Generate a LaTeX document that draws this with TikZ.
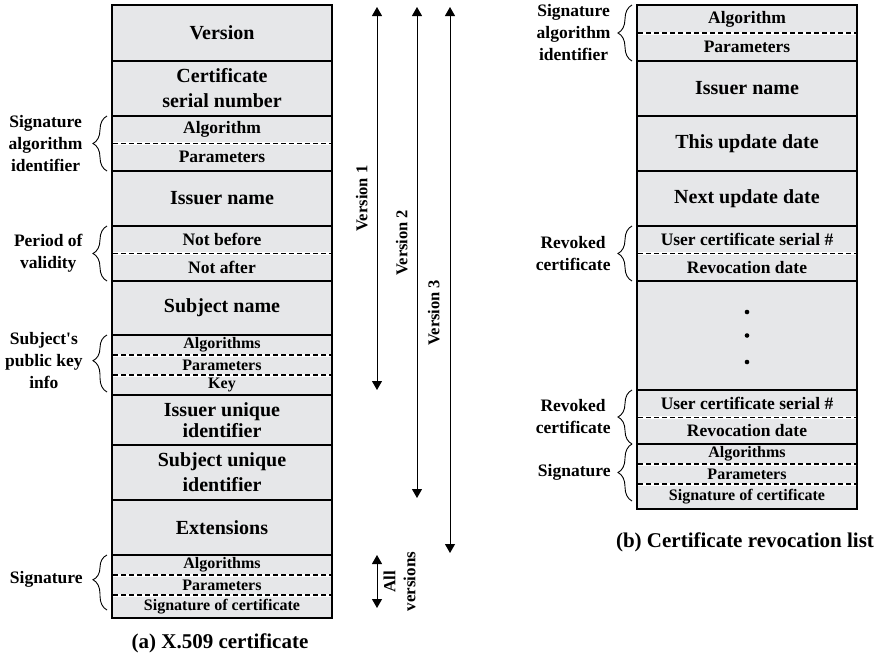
\documentclass[tikz,border=0pt]{standalone}
\usepackage{fontspec}
\setmainfont{Liberation Serif}
\usepackage{xcolor}
\definecolor{certgray}{RGB}{230,231,233}
\usetikzlibrary{arrows.meta,decorations.pathreplacing}
\newcommand{\bigtxt}{\bfseries\fontsize{20}{25}\selectfont}
\newcommand{\midtxt}{\bfseries\fontsize{17.5}{21}\selectfont}
\newcommand{\smalltxt}{\bfseries\fontsize{16}{18}\selectfont}
\newcommand{\sidetxt}{\bfseries\fontsize{17.5}{22}\selectfont}
\newcommand{\vertxt}{\bfseries\fontsize{16.5}{20}\selectfont}
\newcommand{\captxt}{\bfseries\fontsize{21}{25}\selectfont}

\begin{document}
\begin{tikzpicture}[x=1pt,y=-1pt,
  field/.style={draw,line width=1.8pt,fill=certgray,minimum width=220pt,minimum height=#1,inner sep=0pt,outer sep=0pt,align=center,font=\bigtxt},
  part/.style={field=#1,font=\midtxt},
  subpart/.style={field=#1,font=\smalltxt},
  sep/.style={draw=white,line width=3pt,shorten <=1pt,shorten >=1pt,postaction={draw=black,line width=1.1pt,dash pattern=on 5pt off 3pt}},
  brc/.style={decorate,decoration={brace,amplitude=14pt,aspect=#1},line width=0.9pt},
  brc/.default=0.5,
  side/.style={inner sep=0pt,align=center,font=\sidetxt},
  varr/.style={{Triangle[length=9pt,width=10pt]}-{Triangle[length=9pt,width=10pt]},line width=1pt}]
  \useasboundingbox (0,0) rectangle (874,656);

  % (a) X.509 certificate
  \node[field=56pt] (ver) at (222,33) {Version};
  \node[field=55pt] (csn) at (222,88.5) {Certificate\\serial number};
  \node[part=27.5pt] (salg) at (222,129.75) {Algorithm};
  \node[part=27.5pt] (spar) at (222,157.25) {Parameters};
  \node[field=55pt] (iss) at (222,198.5) {Issuer name};
  \node[part=27.5pt] (nbf) at (222,239.75) {Not before};
  \node[part=27.5pt] (naf) at (222,267.25) {Not after};
  \node[field=54pt] (sub) at (222,308) {Subject name};
  \node[subpart=20pt] (pka) at (222,345) {Algorithms};
  \node[subpart=20pt] (pkp) at (222,365) {Parameters};
  \node[subpart=20pt] (pkk) at (222,385) {Key};
  \node[field=50pt] (iui) at (222,420) {Issuer unique\\[-4pt]identifier};
  \node[field=55pt] (sui) at (222,472.5) {Subject unique\\identifier};
  \node[field=55pt] (ext) at (222,527.5) {Extensions};
  \node[subpart=20pt] (sga) at (222,565) {Algorithms};
  \node[subpart=20pt] (sgp) at (222,585) {Parameters};
  \node[subpart=23pt] (sgs) at (222,606.5) {Signature of certificate};
  \draw[sep] (salg.south west) -- (salg.south east);
  \draw[sep] (nbf.south west) -- (nbf.south east);
  \draw[sep] (pka.south west) -- (pka.south east);
  \draw[sep] (pkp.south west) -- (pkp.south east);
  \draw[sep] (sga.south west) -- (sga.south east);
  \draw[sep] (sgp.south west) -- (sgp.south east);

  \draw[brc] ([xshift=-5pt]spar.south west) -- ([xshift=-5pt]salg.north west)
    node[midway,side,left=24pt]{Signature\\algorithm\\identifier};
  \draw[brc] ([xshift=-5pt]naf.south west) -- ([xshift=-5pt]nbf.north west)
    node[midway,side,left=24pt]{Period of\\validity};
  \draw[brc=0.55] ([xshift=-5pt,yshift=3pt]pkk.south west) -- ([xshift=-5pt]pka.north west)
    node[pos=0.55,side,left=24pt]{Subject\textquotesingle s\\public key\\info};
  \draw[brc=0.55] ([xshift=-5pt,yshift=8pt]sgs.south west) -- ([xshift=-5pt]sga.north west)
    node[pos=0.55,side,left=24pt]{Signature};

  \draw[varr] ([xshift=45pt,yshift=5pt]pkk.south east) -- ([xshift=45pt,yshift=-2pt]ver.north east)
    node[pos=0.5,sloped,above=9pt,inner sep=0pt,font=\vertxt]{Version 1};
  \draw[varr] ([xshift=85pt,yshift=2pt]sui.south east) -- ([xshift=85pt,yshift=-2pt]ver.north east)
    node[pos=0.52,sloped,above=9pt,inner sep=0pt,font=\vertxt]{Version 2};
  \draw[varr] ([xshift=118pt,yshift=2pt]ext.south east) -- ([xshift=118pt,yshift=-2pt]ver.north east)
    node[pos=0.44,sloped,above=10pt,inner sep=0pt,font=\vertxt]{Version 3};
  \draw[varr] ([xshift=45pt,yshift=10pt]sgs.south east) -- ([xshift=45pt]sga.north east)
    node[midway,sloped,below=6pt,inner sep=0pt,align=center,font=\bfseries\fontsize{17}{20}\selectfont]{All\\versions};

  \node[font=\captxt] (capa) at (220,643) {(a) X.509 certificate};

  % (b) Certificate revocation list
  \node[part=28pt] (ralg) at (747,19) {Algorithm};
  \node[part=28pt] (rpar) at (747,47) {Parameters};
  \node[field=55pt] (riss) at (747,88.5) {Issuer name};
  \node[field=55pt] (rthis) at (747,143.5) {This update date};
  \node[field=55pt] (rnext) at (747,198.5) {Next update date};
  \node[part=27.5pt] (rus1) at (747,239.75) {User certificate serial \#};
  \node[part=27.5pt] (rrd1) at (747,267.25) {Revocation date};
  \node[field=109pt] (dots) at (747,335.5) {};
  \node[part=27.5pt] (rus2) at (747,403.75) {User certificate serial \#};
  \node[part=26.5pt] (rrd2) at (747,430.75) {Revocation date};
  \node[subpart=20pt] (rsa) at (747,454) {Algorithms};
  \node[subpart=20pt] (rsp) at (747,474) {Parameters};
  \node[subpart=25pt] (rss) at (747,496.5) {Signature of certificate};
  \draw[sep] (ralg.south west) -- (ralg.south east);
  \draw[sep] (rus1.south west) -- (rus1.south east);
  \draw[sep] (rus2.south west) -- (rus2.south east);
  \draw[sep] (rsa.south west) -- (rsa.south east);
  \draw[sep] (rsp.south west) -- (rsp.south east);
  \foreach \dy in {23.5,0,-26.5}
    \fill ([yshift=\dy pt]dots.center) circle (2.3);

  \draw[brc] ([xshift=-5pt]rpar.south west) -- ([xshift=-5pt]ralg.north west)
    node[midway,side,left=21pt]{Signature\\algorithm\\identifier};
  \draw[brc] ([xshift=-5pt]rrd1.south west) -- ([xshift=-5pt]rus1.north west)
    node[midway,side,left=21pt]{Revoked\\certificate};
  \draw[brc] ([xshift=-5pt]rrd2.south west) -- ([xshift=-5pt]rus2.north west)
    node[midway,side,left=21pt]{Revoked\\certificate};
  \draw[brc] ([xshift=-5pt,yshift=8pt]rss.south west) -- ([xshift=-5pt]rsa.north west)
    node[midway,side,left=21pt]{Signature};

  \node[font=\captxt] (capb) at (745,542) {(b) Certificate revocation list};
\end{tikzpicture}
\end{document}
